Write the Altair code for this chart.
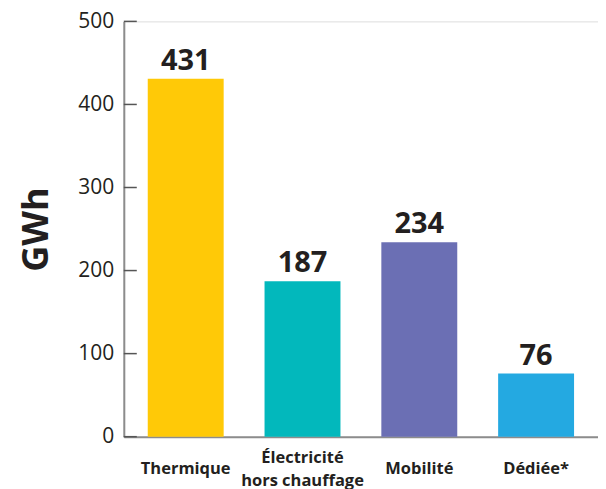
import altair as alt
import pandas as pd

categories = ["Thermique", "Électricité|hors chauffage", "Mobilité", "Dédiée*"]
values = [431, 187, 234, 76]
colors = ["#FFC907", "#02B8BC", "#6B6FB4", "#24A9E1"]
y_ticks = [0, 100, 200, 300, 400, 500]

df = pd.DataFrame({"cat": categories, "val": values, "color": colors})
ticks_df = pd.DataFrame({"t": y_ticks})

FONT = "Open Sans"
TXT = "#231f20"

x_enc = alt.X(
    "cat:N",
    sort=categories,
    title=None,
    scale=alt.Scale(paddingInner=0.35, paddingOuter=0.205),
    axis=alt.Axis(
        labelExpr="split(datum.label, '|')",
        labelAngle=0,
        labelFont=FONT,
        labelFontSize=16.5,
        labelFontWeight="bold",
        labelColor=TXT,
        labelBaseline="middle",
        labelPadding=alt.condition("indexof(datum.value, '|') >= 0", alt.value(21), alt.value(32)),
        labelLineHeight=23,
        ticks=False,
        domainColor="#8c8c8c",
        domainWidth=2,
    ),
)

y_scale = alt.Scale(domain=[0, 500], nice=False)

bars = alt.Chart(df).mark_bar().encode(
    x=x_enc,
    y=alt.Y(
        "val:Q",
        scale=y_scale,
        title="GWh",
        axis=alt.Axis(
            values=y_ticks,
            labelFont=FONT,
            labelFontSize=21,
            labelColor=TXT,
            labelPadding=10,
            ticks=False,
            grid=False,
            domainColor="#8c8c8c",
            domainWidth=2,
            titleFont=FONT,
            titleFontSize=36,
            titleFontWeight="bold",
            titleColor=TXT,
            titlePadding=22,
        ),
    ),
    color=alt.Color("color:N", scale=None),
)

labels = alt.Chart(df).mark_text(
    font=FONT, fontSize=29, fontWeight="bold", color=TXT, baseline="bottom", dy=-3
).encode(
    x=alt.X("cat:N", sort=categories),
    y=alt.Y("val:Q", scale=y_scale),
    text="val:Q",
)

tick_marks = alt.Chart(ticks_df).mark_rule(color="#555555", strokeWidth=1.5).encode(
    y=alt.Y("t:Q", scale=y_scale),
    x=alt.value(0),
    x2=alt.value(13),
)

chart = (
    alt.layer(bars, tick_marks, labels)
    .properties(width=475, height=416, padding={"left": 10, "top": 2, "right": 0, "bottom": 0})
    .configure_view(stroke=None)
    .configure(background="white")
)

chart.save("out.html", embed_options={"renderer": "svg", "actions": False})
